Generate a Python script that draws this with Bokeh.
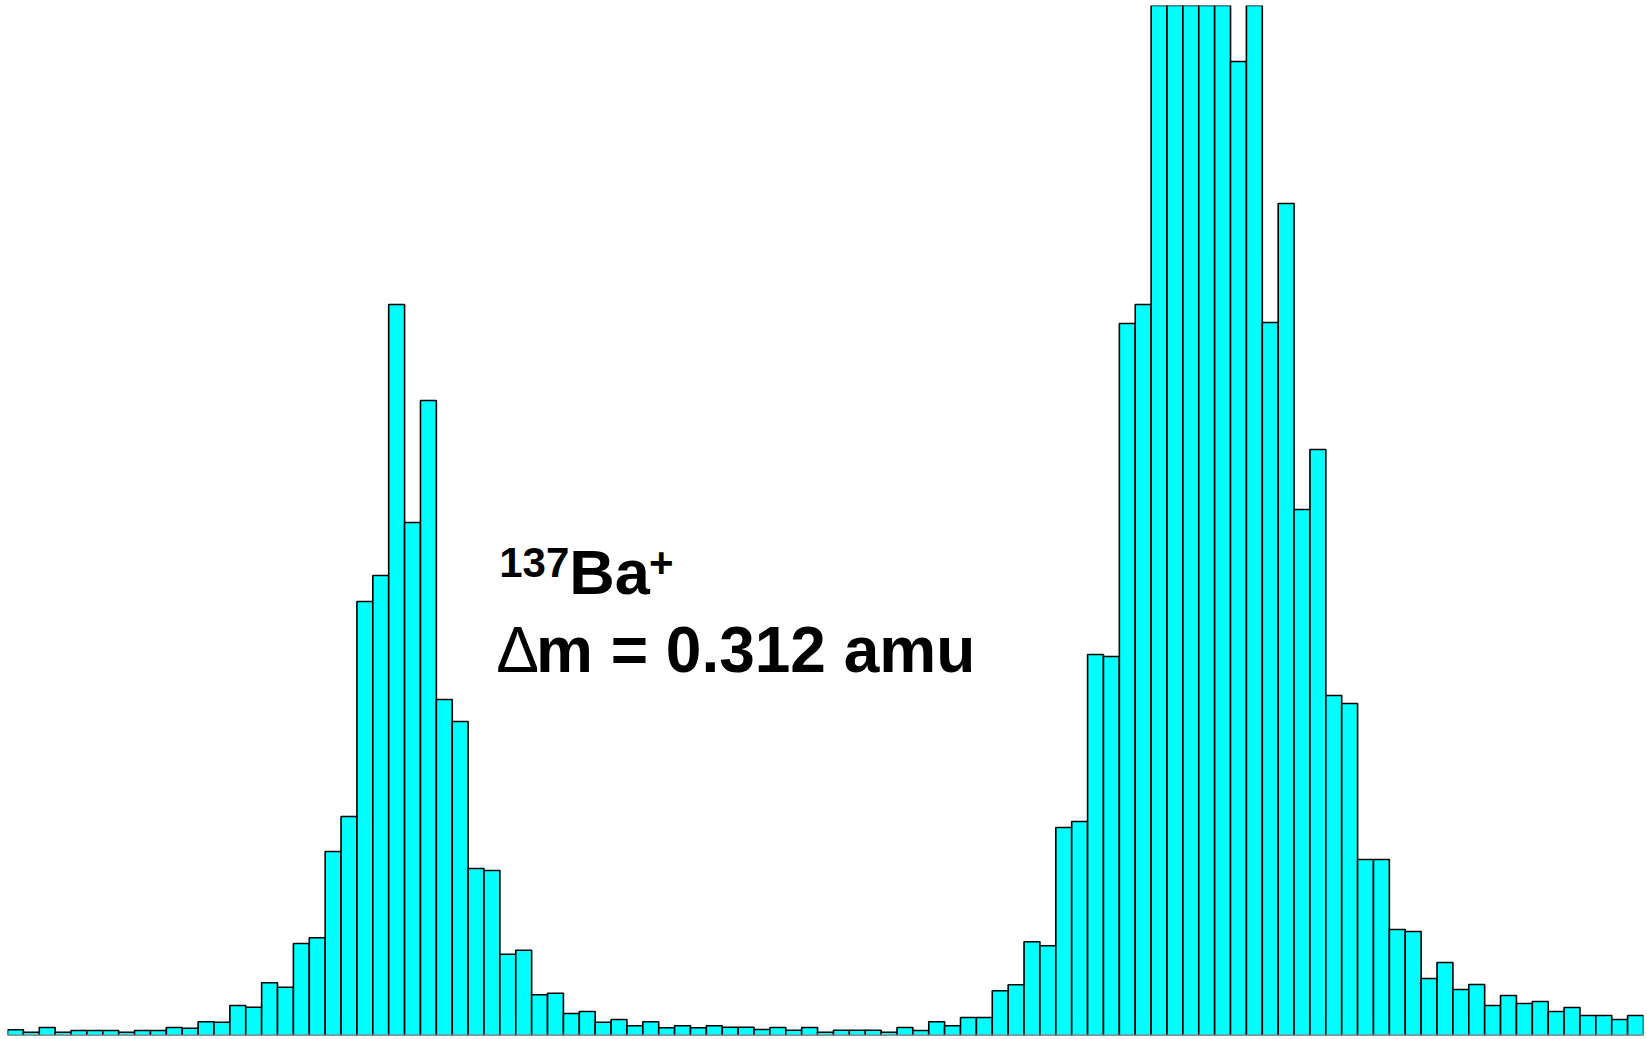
from bokeh.plotting import figure
from bokeh.models import ColumnDataSource, Range1d, Label, Span
from bokeh.embed import file_html
from bokeh.resources import INLINE

# Histogram of ion counts per mass bin (arbitrary units)
counts_left_tail = [5.7, 3.3, 8, 3.3, 5, 5, 5, 3.3, 5, 5, 8, 7.3, 13.7, 13.3, 30, 28.3, 52.7, 48.3, 92, 97.7]
counts_peak1 = [184, 219, 434, 460, 731, 513, 635, 336, 314, 167, 165]
counts_valley = [81.3, 85.3, 40.7, 42.3, 22, 24, 13.3, 16, 9.7, 13.7, 7.7, 9.7, 7.7, 9.7, 8.3, 8.3, 6, 8, 5.3, 8]
counts_rise2 = [3.3, 5.3, 5.3, 5.3, 3.3, 8, 5, 13.7, 9.7, 18, 18, 44.7, 50.7, 93.7, 89.7]
counts_peak2 = [208, 214, 381, 379, 712, 731, 1150, 1250, 1320, 1280, 1180, 974, 1100,
                713, 832, 526, 586, 340, 332, 176, 176]
counts_right_tail = [106, 104, 57, 73, 46, 51, 30, 40, 32, 34, 24, 28, 20, 20, 16, 20]

counts = counts_left_tail + counts_peak1 + counts_valley + counts_rise2 + counts_peak2 + counts_right_tail
bins = list(range(len(counts)))

label_isotope_mass = "137"
label_isotope_symbol = "Ba"
label_isotope_charge = "+"
label_delta = "\u0394"
label_resolution = "m = 0.312 amu"

src = ColumnDataSource(data=dict(x=bins, top=counts))

p = figure(width=1647, height=1039, output_backend="svg", toolbar_location=None,
           x_range=Range1d(-0.5, len(counts) - 0.5), y_range=Range1d(0, 1030),
           min_border_left=7, min_border_right=4, min_border_top=5, min_border_bottom=4)
p.xaxis.visible = False
p.yaxis.visible = False
p.xgrid.visible = False
p.ygrid.visible = False
p.outline_line_color = None
p.background_fill_color = "white"
p.border_fill_color = "white"

p.vbar(x="x", top="top", bottom=0, width=1.0, source=src,
       fill_color="#00FFFF", line_color="black", line_width=1.6)

p.add_layout(Span(location=0, dimension="width", line_color="#a8a8a8", line_width=2))

font = "Liberation Sans"
p.add_layout(Label(x=30.46, y=473, text=label_isotope_mass, text_font=font, text_font_style="bold",
                   text_font_size="42px", text_color="black", text_baseline="alphabetic"))
p.add_layout(Label(x=34.87, y=464, text=label_isotope_symbol, text_font=font, text_font_style="bold",
                   text_font_size="63px", text_color="black", text_baseline="alphabetic"))
p.add_layout(Label(x=39.88, y=473, text=label_isotope_charge, text_font=font, text_font_style="bold",
                   text_font_size="42px", text_color="black", text_baseline="alphabetic"))
p.add_layout(Label(x=30.27, y=386, text=label_delta, text_font=font, text_font_style="normal",
                   text_font_size="64px", text_color="black", text_baseline="alphabetic"))
p.add_layout(Label(x=32.77, y=386, text=label_resolution, text_font=font, text_font_style="bold",
                   text_font_size="64px", text_color="black", text_baseline="alphabetic"))

open("out.html", "w").write(file_html(p, INLINE))
